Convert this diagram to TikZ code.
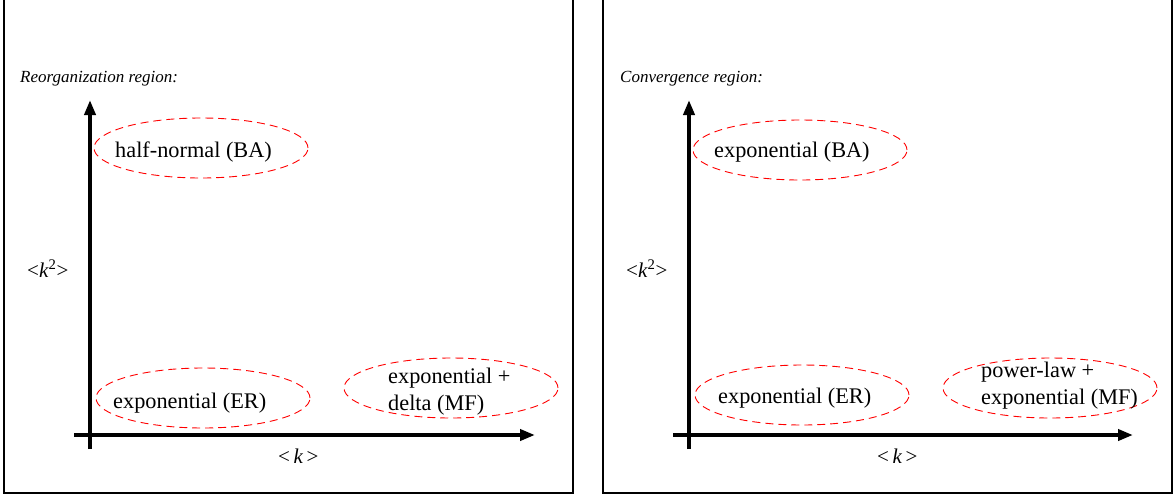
\documentclass[tikz,border=0pt]{standalone}
\usepackage{fontspec}
\setmainfont{Liberation Serif}
\usetikzlibrary{arrows.meta,shapes.geometric}

\tikzset{
  frame/.style={line width=2pt},
  axis/.style={line width=4pt, -{Triangle[length=15pt,width=11pt]}},
  region/.style={ellipse, draw=red, line width=0.9pt, dash pattern=on 8pt off 5pt,
    minimum width=214pt, minimum height=60pt, inner sep=0pt},
  dist/.style={anchor=base west, inner sep=0pt, font=\fontsize{22.3}{27}\selectfont, align=left},
  title/.style={anchor=base west, inner sep=0pt, font=\fontsize{17}{20}\selectfont\itshape},
  moment/.style={anchor=base west, inner sep=0pt, font=\fontsize{21}{24}\selectfont}
}

\begin{document}
\begin{tikzpicture}[x=1pt, y=-1pt]
  \useasboundingbox (0,0) rectangle (1175,496);

  % left panel
  \draw[frame] (4,0) -- (4,493) -- (573,493) -- (573,0);
  \node[title] (titleL) at (20,82) {Reorganization region:};
  \coordinate (yL0) at (90,449);
  \coordinate (yL1) at (90,100);
  \coordinate (xL0) at (74,435);
  \coordinate (xL1) at (535,435);
  \draw[axis] (yL0) -- (yL1);
  \draw[axis] (xL0) -- (xL1);
  \node[moment] (k2L) at (27,277) {<\textit{k}\textsuperscript{2}>};
  \node[moment] (kL) at (278,463) {<\,\textit{k}\,>};

  \node[region] (baL) at (201,148) {};
  \node[region] (erL) at (203,398) {};
  \node[region] (mfL) at (451,388) {};
  \node[dist] (baLt) at (115,157) {half-normal (BA)};
  \node[dist] (erLt) at (113,408) {exponential (ER)};
  \node[dist] (mfLt) at (388,410) {exponential +\\delta (MF)};

  % right panel
  \draw[frame] (603,0) -- (603,493) -- (1172,493) -- (1172,0);
  \node[title] (titleR) at (620,82) {Convergence region:};
  \coordinate (yR0) at (689,449);
  \coordinate (yR1) at (689,100);
  \coordinate (xR0) at (673,435);
  \coordinate (xR1) at (1133,435);
  \draw[axis] (yR0) -- (yR1);
  \draw[axis] (xR0) -- (xR1);
  \node[moment] (k2R) at (626,277) {<\textit{k}\textsuperscript{2}>};
  \node[moment] (kR) at (877,463) {<\,\textit{k}\,>};

  \node[region] (baR) at (800,150) {};
  \node[region] (erR) at (802,395) {};
  \node[region] (mfR) at (1050,388) {};
  \node[dist] (baRt) at (714,157) {exponential (BA)};
  \node[dist] (erRt) at (718,403) {exponential (ER)};
  \node[dist] (mfRt) at (981,404) {power-law +\\exponential (MF)};
\end{tikzpicture}
\end{document}
